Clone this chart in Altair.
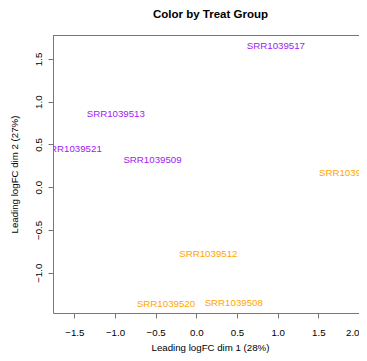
import altair as alt
import pandas as pd

samples = ["SRR1039517", "SRR1039513", "SRR1039521", "SRR1039509",
           "SRR1039516", "SRR1039512", "SRR1039520", "SRR1039508"]
dim1 = [0.978, -0.99, -1.52, -0.539, 1.866, 0.148, -0.373, 0.46]
dim2 = [1.653, 0.854, 0.448, 0.319, 0.171, -0.784, -1.361, -1.35]
group = ["trt", "trt", "trt", "trt", "untrt", "untrt", "untrt", "untrt"]
group_names = ["trt", "untrt"]
group_colors = ["#A020F0", "#FFA500"]
x_ticks = [-1.5, -1.0, -0.5, 0.0, 0.5, 1.0, 1.5, 2.0]
y_ticks = [-1.0, -0.5, 0.0, 0.5, 1.0, 1.5]
title_text = ["Color by Treat Group"]

df = pd.DataFrame({"sample": samples, "dim1": dim1, "dim2": dim2, "group": group})
title_df = pd.DataFrame({"title": title_text})

FONT = "Liberation Sans"
W, H = 306, 278
LINE = "#777"

texts = alt.Chart(df).mark_text(font=FONT, fontSize=9.7, clip=True).encode(
    x=alt.X("dim1:Q",
            scale=alt.Scale(domain=[-1.762, 2.0], nice=False, zero=False),
            axis=alt.Axis(values=x_ticks, format=".1f", title="Leading logFC dim 1 (28%)",
                          grid=False, tickSize=5, labelPadding=9, titleY=34,
                          titleX=157, titleBaseline="middle", labelFlush=True)),
    y=alt.Y("dim2:Q",
            scale=alt.Scale(domain=[-1.471, 1.78], nice=False, zero=False),
            axis=alt.Axis(values=y_ticks, format=".1f", title="Leading logFC dim 2 (27%)",
                          grid=False, tickSize=5, labelPadding=5, labelAngle=270,
                          labelAlign="center", labelBaseline="bottom",
                          titleX=-39, titleY=H / 2, titleBaseline="middle",
                          titleAngle=270)),
    text="sample:N",
    color=alt.Color("group:N", scale=alt.Scale(domain=group_names, range=group_colors),
                    legend=None),
)

top_rule = alt.Chart(title_df).mark_rule(color=LINE, strokeWidth=1).encode(
    x=alt.value(0), x2=alt.value(W), y=alt.value(0.5)
)

title = alt.Chart(title_df).mark_text(font=FONT, fontSize=11.5, fontWeight="bold",
                                      color="black", baseline="alphabetic",
                                      align="center").encode(
    x=alt.value(157.5), y=alt.value(-17.5), text="title:N"
)

chart = alt.layer(texts, top_rule, title).properties(
    width=W, height=H,
    autosize=alt.AutoSizeParams(type="none"),
    padding={"left": 45, "top": 27, "right": 0, "bottom": 40},
).configure_view(stroke=None).configure_axis(
    domainColor=LINE, tickColor=LINE, labelColor="black", titleColor="black",
    labelFont=FONT, titleFont=FONT, labelFontSize=9.7, titleFontSize=9.7,
    titleFontWeight="normal",
)

chart.save("out.html", embed_options={"renderer": "svg", "actions": False})
